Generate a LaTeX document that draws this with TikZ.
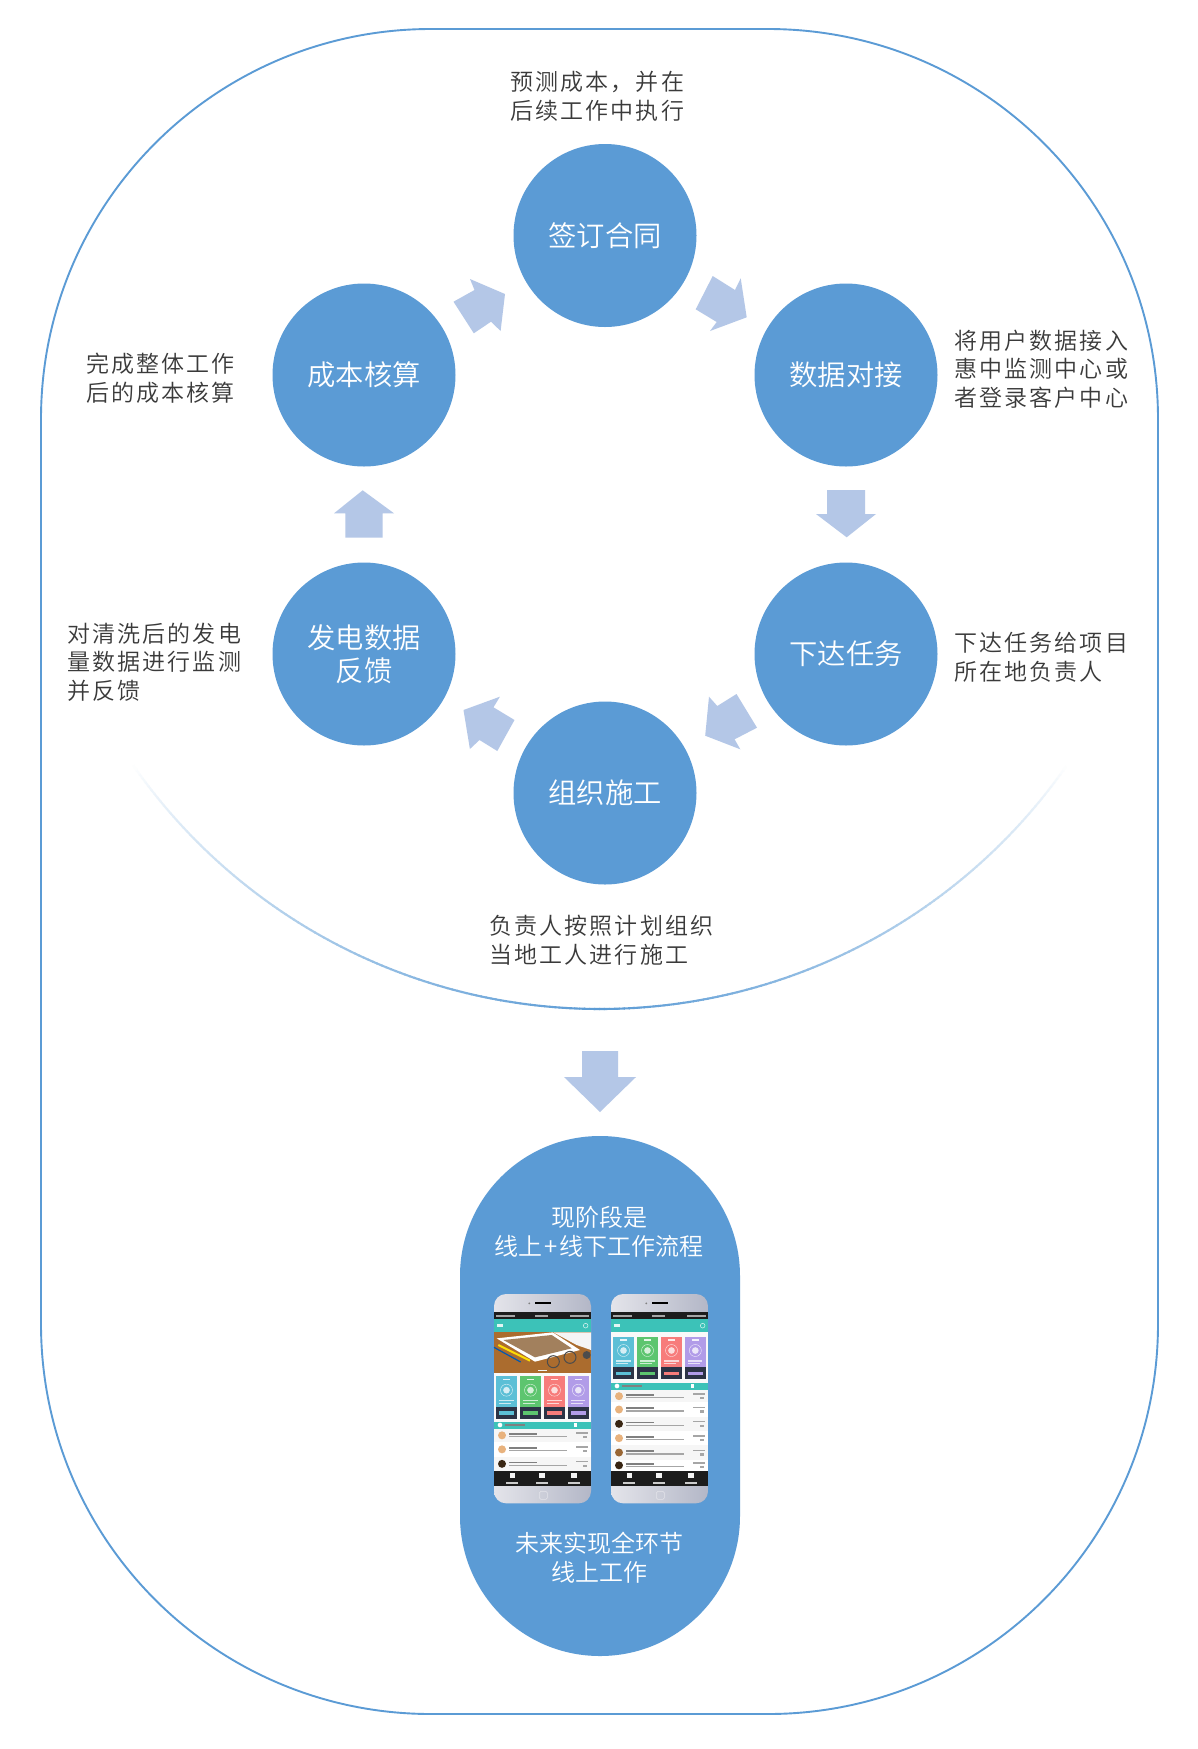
\documentclass[tikz,border=0pt]{standalone}
\usepackage{fontspec}
\setmainfont{Noto Sans CJK SC DemiLight}
\newfontfamily\darkfont[LetterSpace=9.4]{Noto Sans CJK SC DemiLight}
\definecolor{mainblue}{HTML}{5B9BD5}
\definecolor{paleblue}{HTML}{B4C7E7}
\definecolor{darktext}{HTML}{3A3A3A}
\definecolor{tealbar}{HTML}{3CC2B8}
\definecolor{cardblue}{HTML}{5CBFD6}
\definecolor{cardgreen}{HTML}{5DC56F}
\definecolor{cardred}{HTML}{F77C7B}
\definecolor{cardpurple}{HTML}{B19CE8}
\definecolor{carddark}{HTML}{2C3346}
\definecolor{navblack}{HTML}{1C1C1C}
\definecolor{silverlight}{HTML}{E4E4EA}
\definecolor{silverdark}{HTML}{B3B7C7}
\tikzset{
  stagecircle/.style={circle,fill=mainblue,text=white,minimum size=183pt,inner sep=0pt,align=center,font=\fontsize{28.3}{33.5}\selectfont},
  note/.style={anchor=west,inner sep=0pt,align=left,text=darktext,font=\fontsize{23}{28.7}\darkfont},
  capsuletext/.style={inner sep=0pt,align=center,text=white,font=\fontsize{24}{29}\selectfont},
  blockarrow/.style={fill=paleblue},
}
\newcommand{\PhoneCard}[6]{% x1 x2 y1 ymid y2 colour
  \fill[#6] (#1,#3) rectangle (#2,#4);
  \fill[carddark] (#1,#4) rectangle (#2,#5);
  \fill[white,opacity=.85] (#1+20,#3+8) rectangle (#2-20,#3+12);
  \draw[white,opacity=.8,line width=.4pt] ({(#1+#2)/2},{(#3+#4)/2-4}) circle [radius=18];
  \fill[white,opacity=.75] ({(#1+#2)/2},{(#3+#4)/2-4}) circle [radius=10];
  \fill[white,opacity=.7] (#1+10,#4-20) rectangle (#2-10,#4-16);
  \fill[white,opacity=.7] (#1+10,#4-12) rectangle (#2-18,#4-8);
  \fill[#6] (#1+9,{(#4+#5)/2-5}) rectangle (#2-9,{(#4+#5)/2+6});
}
\newcommand{\PhoneRow}[4]{% y1 y2 background avatar
  \fill[#3] (72,#1) rectangle (363,#2);
  \fill[#4] (96,{(#1+#2)/2}) circle [radius=12];
  \fill[gray] (118,{(#1+#2)/2-7}) rectangle (200,{(#1+#2)/2-2});
  \fill[gray!70] (118,{(#1+#2)/2+2}) rectangle (290,{(#1+#2)/2+6});
  \fill[gray!70] (318,{(#1+#2)/2-9}) rectangle (354,{(#1+#2)/2-5});
  \fill[gray!70] (338,{(#1+#2)/2+2}) rectangle (350,{(#1+#2)/2+9});
}
\newcommand{\PhoneBody}{%
  \shade[left color=silverlight,right color=silverdark,rounded corners=12pt] (72,72) rectangle (363,700);
  \fill[black] (195,97) rectangle (243,103);
  \fill[gray] (178,100) circle [radius=3];
  \draw[silverlight,line width=.6pt,rounded corners=1.5pt] (208,664) rectangle (232,688);
  \fill[navblack] (72,127) rectangle (363,147);
  \foreach \a/\b in {78/135,195/235,300/358}{\fill[gray!70] (\a,134) rectangle (\b,140);}
  \fill[tealbar] (72,147) rectangle (363,187);
  \fill[white!85!tealbar] (80,162) rectangle (100,172);
  \draw[white!85!tealbar,line width=.5pt] (347,167) circle [radius=7];
  \fill[white!95!gray] (72,187) rectangle (363,603);
  \fill[navblack] (72,603) rectangle (363,648);
  \foreach \c in {127,216,312}{
    \fill[white!90!gray] (\c-8,610) rectangle (\c+8,624);
    \fill[white!60!gray] (\c-18,635) rectangle (\c+18,641);
  }
}
\begin{document}
\begin{tikzpicture}[x=1pt,y=-1pt]
\path[use as bounding box,fill=white] (0,0) rectangle (1198,1749);
% outer frame
\draw[mainblue,line width=1.9pt,rounded corners=390pt] (41,29) rectangle (1158,1714);
% fading arc
\foreach \t in {35,35.5,...,144.5}{
  \pgfmathsetmacro{\pct}{100*(1-abs(\t+0.25-90)/55)^0.8}
  \draw[color=mainblue!\pct!white,line width=2.1pt] ({600+569*cos(\t)},{440+569*sin(\t)}) -- ({600+569*cos(\t+0.6)},{440+569*sin(\t+0.6)});
}
% stages
\node[stagecircle] (sign) at (605,235.5) {签订合同};
\node[stagecircle] (data) at (846,375) {数据对接};
\node[stagecircle] (task) at (846,654) {下达任务};
\node[stagecircle] (build) at (605,793) {组织施工};
\node[stagecircle] (feedback) at (364,654) {发电数据\\反馈};
\node[stagecircle] (cost) at (364,375) {成本核算};
% block arrows
\fill[blockarrow] (453.5,301.7) -- (474.5,290) -- (470,279) -- (505,294) -- (500.6,331) -- (491,321.7) -- (473.8,333.3) -- cycle;
\fill[blockarrow] (712.7,276) -- (735,290) -- (740.7,278.3) -- (746.7,317.3) -- (710,331) -- (716.7,322) -- (695.7,309.3) -- cycle;
\fill[blockarrow] (827,490) -- (865,490) -- (865,514) -- (876,514) -- (846.7,537.3) -- (816,514) -- (827,514) -- cycle;
\fill[blockarrow] (736.5,694) -- (757,727.7) -- (734.6,739.3) -- (740.3,749.3) -- (705.2,735.7) -- (709,696.7) -- (717.3,706) -- cycle;
\fill[blockarrow] (499.9,696.7) -- (463.5,710) -- (469.9,749) -- (479.5,740) -- (497.3,751) -- (514.5,720) -- (493.5,707.3) -- cycle;
\fill[blockarrow] (362.7,490.3) -- (394,513.3) -- (382.7,513.3) -- (382.7,537.7) -- (345.3,537.7) -- (345.3,513.3) -- (334,513.3) -- cycle;
\fill[blockarrow] (582,1051) -- (618,1051) -- (618,1077) -- (636,1077) -- (600,1112) -- (564,1077) -- (582,1077) -- cycle;
% notes
\node[note] (n1) at (510,96) {预测成本，并在\\后续工作中执行};
\node[note] (n2) at (954,369) {将用户数据接入\\惠中监测中心或\\者登录客户中心};
\node[note] (n3) at (954,657) {下达任务给项目\\所在地负责人};
\node[note] (n4) at (489,940) {负责人按照计划组织\\当地工人进行施工};
\node[note] (n5) at (67,662) {对清洗后的发电\\量数据进行监测\\并反馈};
\node[note] (n6) at (86,378.5) {完成整体工作\\后的成本核算};
% capsule
\fill[mainblue,rounded corners=139.9pt] (460,1136) rectangle (740,1656);
\node[capsuletext] (c1) at (599,1231.5) {现阶段是\\线上\kern2pt+\kern2pt线下工作流程};
\node[capsuletext] (c2) at (599,1557.5) {未来实现全环节\\线上工作};
% phone 1
\begin{scope}[shift={(470,1270)},x=0.33333pt,y=-0.33333pt]
  \PhoneBody
  % photo
  \fill[brown!85!orange!85!black] (72,187) rectangle (363,308);
  \fill[white!92!gray] (250,187) -- (363,187) -- (363,240) -- (320,225) -- cycle;
  \fill[white] (80,205) -- (248,187) -- (330,240) -- (195,275) -- cycle;
  \fill[brown!55!gray] (100,210) -- (245,195) -- (305,235) -- (195,262) -- cycle;
  \draw[yellow!80!orange,line width=2pt] (85,225) -- (180,272);
  \draw[blue!50!cyan!70!black,line width=1.2pt] (72,232) -- (152,276);
  \draw[black!70,line width=1pt] (250,275) circle [radius=18];
  \draw[black!70,line width=1pt] (300,262) circle [radius=18];
  \fill[black!70] (350,255) circle [radius=12];
  \fill[white!90!gray] (205,299) rectangle (232,303);
  % cards
  \PhoneCard{78}{141}{319}{410}{448}{cardblue}
  \PhoneCard{150}{213}{319}{410}{448}{cardgreen}
  \PhoneCard{222}{285}{319}{410}{448}{cardred}
  \PhoneCard{294}{356}{319}{410}{448}{cardpurple}
  \fill[tealbar] (72,455) rectangle (363,476);
  \fill[white] (90,465) circle [radius=7];
  \fill[gray] (105,461) rectangle (165,469);
  \fill[white] (312,459) rectangle (322,471);
  \PhoneRow{476}{516}{white!93!gray}{brown!60!orange!60!white}
  \PhoneRow{516}{560}{white}{brown!60!orange!60!white}
  \PhoneRow{560}{603}{white!93!gray}{black!70!brown}
\end{scope}
% phone 2
\begin{scope}[shift={(587,1270)},x=0.33333pt,y=-0.33333pt]
  \PhoneBody
  \PhoneCard{78}{141}{200}{291}{328}{cardblue}
  \PhoneCard{150}{213}{200}{291}{328}{cardgreen}
  \PhoneCard{222}{285}{200}{291}{328}{cardred}
  \PhoneCard{294}{356}{200}{291}{328}{cardpurple}
  \fill[tealbar] (72,338) rectangle (363,360);
  \fill[white] (90,348) circle [radius=7];
  \fill[gray] (105,344) rectangle (165,352);
  \fill[white] (312,342) rectangle (322,354);
  \PhoneRow{360}{397}{white!93!gray}{brown!60!orange!60!white}
  \PhoneRow{397}{440}{white}{brown!60!orange!60!white}
  \PhoneRow{440}{483}{white!93!gray}{black!70!brown}
  \PhoneRow{483}{526}{white}{brown!60!orange!60!white}
  \PhoneRow{526}{569}{white!93!gray}{brown!80!black}
  \PhoneRow{569}{603}{white}{black!70!brown}
\end{scope}
\end{tikzpicture}
\end{document}
